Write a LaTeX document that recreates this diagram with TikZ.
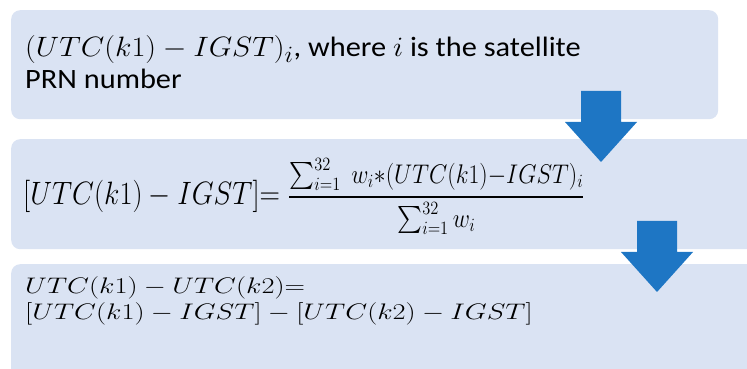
\documentclass[tikz,border=0pt]{standalone}
\usepackage{amsmath}
\usepackage{fontspec}
\setmainfont{Carlito}
\usetikzlibrary{positioning}

\definecolor{stagefill}{RGB}{218,227,243}
\definecolor{flowblue}{RGB}{30,118,196}

\begin{document}
\begin{tikzpicture}[
  x=1pt, y=1pt,
  stage/.style={rectangle, rounded corners=9pt, fill=stagefill, inner sep=0pt, anchor=north west},
  formula/.style={anchor=base west, inner sep=0pt, font=\fontsize{24.88}{28}\selectfont, transform shape},
  wider/.style={xscale=1.22, yscale=1.125},
  taller/.style={xscale=1.14, yscale=1.3},
  flatter/.style={xscale=1.14, yscale=0.904},
  flowdown/.pic={\fill[flowblue] (-20,71) -- (20,71) -- (20,40) -- (36,40) -- (0,0) -- (-36,40) -- (-20,40) -- cycle;}
]
\clip (0,0) rectangle (747,369);

\node[stage, minimum width=707, minimum height=109] (sat) at (11,359) {};
\node[stage, minimum width=760, minimum height=110] (mean) at (11,230) {};
\node[stage, minimum width=760, minimum height=115] (link) at (11,105) {};

\pic at (601,207) {flowdown};
\pic at (657,77) {flowdown};

\node[wider, formula] (satline) at ([shift={(14,-47)}]sat.north west)
  {$(UTC(k1) - IGST)_i$, where $i$ is the satellite};
\node[wider, formula] (prn) at ([shift={(14,-79)}]sat.north west) {PRN number};

\node[taller, formula] (avg) at ([shift={(12,-66)}]mean.north west)
  {$[UTC(k1) - IGST]{=}\;{\displaystyle\frac
    {\mbox{\fontsize{20.74}{22}\selectfont$\sum_{i=1}^{32}\; w_i{*}(UTC(k1){-}IGST)_i$}}
    {\mbox{\fontsize{20.74}{22}\selectfont$\sum_{i=1}^{32} w_i$}}}$};

\node[flatter, formula] (diff) at ([shift={(14,-30)}]link.north west) {$UTC(k1) - UTC(k2){=}$};
\node[flatter, formula] (diffexp) at ([shift={(14,-56)}]link.north west)
  {$[UTC(k1) - IGST] - [UTC(k2) - IGST]$};
\end{tikzpicture}
\end{document}
